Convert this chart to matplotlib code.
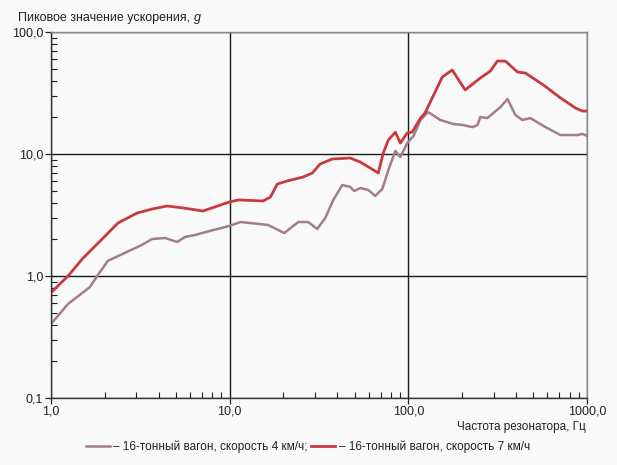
import matplotlib
matplotlib.use("Agg")
import matplotlib.pyplot as plt
from matplotlib.ticker import FixedLocator, LogLocator, NullFormatter, FixedFormatter

plt.rcParams['font.family'] = ['Liberation Sans', 'DejaVu Sans']

# 16-ton wagon, 4 km/h
freq_4 = [1.0, 1.245, 1.65, 1.83, 2.08, 2.50, 3.23, 3.68, 4.35, 5.08, 5.63, 6.41, 8.09, 9.94,
          11.5, 16.4, 20.2, 24.2, 27.5, 30.9, 34.3, 38.0, 42.7, 47.3, 49.8, 53.8, 59.7, 65.3,
          71.5, 77.3, 84.6, 90.2, 98.7, 107, 117, 129, 151, 179, 201, 229, 244, 253, 277,
          328, 359, 397, 435, 482, 586, 711, 885, 944, 1000]
acc_4 = [0.404, 0.59, 0.81, 1.02, 1.33, 1.51, 1.80, 2.01, 2.05, 1.90, 2.09, 2.17, 2.38, 2.57,
         2.77, 2.62, 2.25, 2.77, 2.77, 2.43, 2.99, 4.20, 5.57, 5.37, 4.97, 5.26, 5.07, 4.53,
         5.17, 7.39, 10.6, 9.45, 12.3, 14.1, 19.0, 22.1, 19.0, 17.6, 17.3, 16.6, 17.3, 20.1, 19.7,
         24.3, 28.2, 20.9, 19.0, 19.7, 16.6, 14.3, 14.3, 14.6, 14.1]

# 16-ton wagon, 7 km/h
freq_7 = [1.0, 1.245, 1.51, 1.96, 2.37, 3.03, 3.68, 4.47, 5.49, 7.1, 9.94, 11.2, 15.4, 16.9,
          18.5, 21.0, 25.8, 29.0, 32.1, 37.5, 47.3, 53.8, 61.2, 67.9, 72.4, 77.3, 84.6, 90.2,
          98.7, 105, 117, 124, 155, 176, 208, 253, 288, 315, 349, 408, 452, 570, 711, 863, 944, 1000]
acc_7 = [0.73, 1.0, 1.40, 2.05, 2.72, 3.28, 3.54, 3.75, 3.61, 3.41, 4.04, 4.20, 4.12, 4.44,
         5.68, 6.01, 6.48, 6.98, 8.28, 9.1, 9.27, 8.6, 7.67, 6.98, 10.2, 13.0, 15.1, 12.3,
         14.9, 15.1, 19.7, 21.7, 42.8, 48.8, 33.5, 42.0, 47.9, 57.8, 57.8, 47.0, 46.1, 36.8, 28.8,
         23.8, 22.5, 22.5]

x_ticks = [1, 10, 100, 1000]
x_labels = ["1,0", "10,0", "100,0", "1000,0"]
y_ticks = [0.1, 1, 10, 100]
y_labels = ["0,1", "1,0", "10,0", "100,0"]
labels = ["– 16-тонный вагон, скорость 4 км/ч;", "– 16-тонный вагон, скорость 7 км/ч"]

bg = "#f9f9f9"
txt = "#222222"
fig = plt.figure(figsize=(6.17, 4.65), dpi=100, facecolor=bg)
ax = fig.add_axes([51/617, 1-398/465, (587-51)/617, (398-32)/465])
ax.set_facecolor(bg)

l1, = ax.plot(freq_4, acc_4, color="#a47d8c", lw=1.8)
l2, = ax.plot(freq_7, acc_7, color="#c93a3e", lw=2.0)

ax.set_xscale("log")
ax.set_yscale("log")
ax.set_xlim(1, 1000)
ax.set_ylim(0.1, 100)

ax.xaxis.set_major_locator(FixedLocator(x_ticks))
ax.xaxis.set_major_formatter(FixedFormatter(x_labels))
ax.yaxis.set_major_locator(FixedLocator(y_ticks))
ax.yaxis.set_major_formatter(FixedFormatter(y_labels))
ax.xaxis.set_minor_locator(LogLocator(base=10, subs=range(2, 10)))
ax.yaxis.set_minor_locator(LogLocator(base=10, subs=range(2, 10)))
ax.xaxis.set_minor_formatter(NullFormatter())
ax.yaxis.set_minor_formatter(NullFormatter())

ax.tick_params(which="major", direction="out", length=4, width=0.9, labelsize=9,
               color=txt, labelcolor=txt, pad=1.5)
ax.tick_params(which="minor", direction="in", length=4, width=0.8, color=txt)
ax.grid(True, which="major", color="#1a1a1a", lw=1.0)
for s in ax.spines.values():
    s.set_color("#333333")
    s.set_linewidth(1.0)
ax.spines['top'].set_color("#888888")
ax.spines['right'].set_color("#888888")

t1 = fig.text(18/617, 1-18/465, "Пиковое значение ускорения, ", fontsize=9, color=txt,
              ha="left", va="center")
ax.annotate("g", xy=(1, 0.5), xycoords=t1, xytext=(0, 0), textcoords="offset points",
            fontsize=9, color=txt, style="italic", ha="left", va="center",
            annotation_clip=False)

fig.text(586/617, 1-427/465, "Частота резонатора, Гц", fontsize=8.5, color=txt,
         ha="right", va="center")

fig.legend([l1, l2], labels, loc="center", bbox_to_anchor=(308/617, 1-447/465), ncol=2,
           frameon=False, fontsize=8.5, handlelength=2.0, handletextpad=0.3,
           columnspacing=0.3, labelcolor=txt)

fig.savefig("out.png", dpi=100, facecolor=bg)
